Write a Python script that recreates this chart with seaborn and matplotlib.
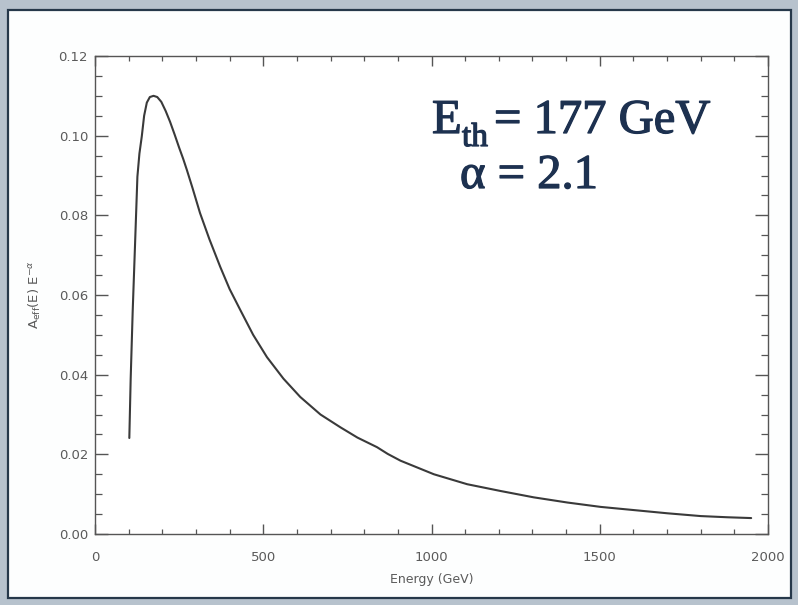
import numpy as np
import pandas as pd
import seaborn as sns
import matplotlib
matplotlib.use("Agg")
import matplotlib.pyplot as plt
import matplotlib.patheffects as pe
from matplotlib.patches import Rectangle
from matplotlib.ticker import MultipleLocator

# Differential rate A_eff(E) * E^-alpha versus energy
energy_gev = [102, 106, 112, 119, 126, 132, 139, 146, 154, 163, 174, 185,
              197, 210, 223, 237, 250, 262, 273, 290, 312, 340, 372, 400,
              432, 470, 511, 560, 610, 670, 729, 780, 838, 870, 908, 1007,
              1106, 1205, 1304, 1404, 1503, 1602, 1701, 1800, 1880, 1950]
rate = [0.0241, 0.0389, 0.0559, 0.0727, 0.0897, 0.0955, 0.0998, 0.1050,
        0.1083, 0.1097, 0.1100, 0.1097, 0.1085, 0.1062, 0.1035, 0.1002,
        0.0970, 0.0942, 0.0914, 0.0868, 0.0806, 0.0740, 0.0671, 0.0615,
        0.0562, 0.0500, 0.0444, 0.0390, 0.0344, 0.0300, 0.0268, 0.0242,
        0.0218, 0.0201, 0.0184, 0.0150, 0.0125, 0.0108, 0.0092, 0.0079,
        0.0068, 0.0060, 0.0052, 0.0045, 0.0042, 0.0040]

x_ticks = [0, 500, 1000, 1500, 2000]
y_ticks = [0.00, 0.02, 0.04, 0.06, 0.08, 0.10, 0.12]

df = pd.DataFrame({"Energy": energy_gev, "Rate": rate})

sns.set_style("white")
plt.rcParams["font.family"] = ["DejaVu Sans"]
plt.rcParams["mathtext.fontset"] = "dejavusans"

W, H = 798, 605
fig = plt.figure(figsize=(W / 100, H / 100), dpi=100)
fig.patch.set_facecolor("#b7c2cd")

# white slide panel with dark frame
panel = Rectangle((8 / W, 1 - 598 / H), (791 - 8) / W, (598 - 10) / H,
                  transform=fig.transFigure, facecolor="#fdfefe",
                  edgecolor="#26384a", linewidth=1.6, zorder=-5)
fig.patches.append(panel)

ax = fig.add_axes([95 / W, 1 - 534 / H, (768 - 95) / W, (534 - 56) / H])
ax.set_zorder(2)
ax.set_facecolor("white")

sns.lineplot(data=df, x="Energy", y="Rate", ax=ax, color="#3a3a3a",
             linewidth=1.5, estimator=None, sort=False)

ax.set_xlim(0, 2000)
ax.set_ylim(0, 0.12)
ax.set_xticks(x_ticks)
ax.set_yticks(y_ticks)
ax.set_xticklabels([str(v) for v in x_ticks])
ax.set_yticklabels([f"{v:.2f}" for v in y_ticks])
ax.xaxis.set_minor_locator(MultipleLocator(100))
ax.yaxis.set_minor_locator(MultipleLocator(0.005))

tick_col = "#555555"
for side in ["left", "right", "top", "bottom"]:
    ax.spines[side].set_visible(True)
    ax.spines[side].set_color(tick_col)
    ax.spines[side].set_linewidth(1.0)

ax.tick_params(axis="x", which="major", direction="in", length=7,
               width=1.0, color=tick_col, top=True, bottom=True,
               labelsize=9.5, labelcolor="#5a5a5a", pad=12)
ax.tick_params(axis="x", which="minor", direction="in", length=3.5,
               width=0.9, color=tick_col, top=True, bottom=True)
ax.tick_params(axis="y", which="major", direction="in", length=9.7,
               width=1.0, color=tick_col, left=True, right=True,
               labelsize=9.5, labelcolor="#5a5a5a", pad=5)
ax.tick_params(axis="y", which="minor", direction="in", length=4.9,
               width=0.9, color=tick_col, left=True, right=True)

ax.set_xlabel("Energy (GeV)", fontsize=9, color="#5a5a5a", labelpad=7)
ax.set_ylabel(r"A$_{\mathrm{eff}}$(E) E$^{-\alpha}$", fontsize=9.5,
              color="#5a5a5a", labelpad=11)

navy = "#1d3150"
heavy = [pe.withStroke(linewidth=0.9, foreground=navy)]
fig.text(432 / W, 1 - 133 / H, "E", fontsize=35, color=navy,
         family="Liberation Serif", ha="left", va="baseline", zorder=5,
         path_effects=heavy)
fig.text(462 / W, 1 - 146 / H, "th", fontsize=24, color=navy,
         family="Liberation Serif", ha="left", va="baseline", zorder=5,
         path_effects=heavy)
fig.text(494 / W, 1 - 133 / H, "= 177 GeV", fontsize=35, color=navy,
         family="Liberation Serif", ha="left", va="baseline", zorder=5,
         path_effects=heavy)
fig.text(460 / W, 1 - 188 / H, "α = 2.1", fontsize=35, color=navy,
         family="Liberation Serif", ha="left", va="baseline", zorder=5,
         path_effects=heavy)

fig.savefig("out.png", dpi=100, facecolor=fig.get_facecolor())
